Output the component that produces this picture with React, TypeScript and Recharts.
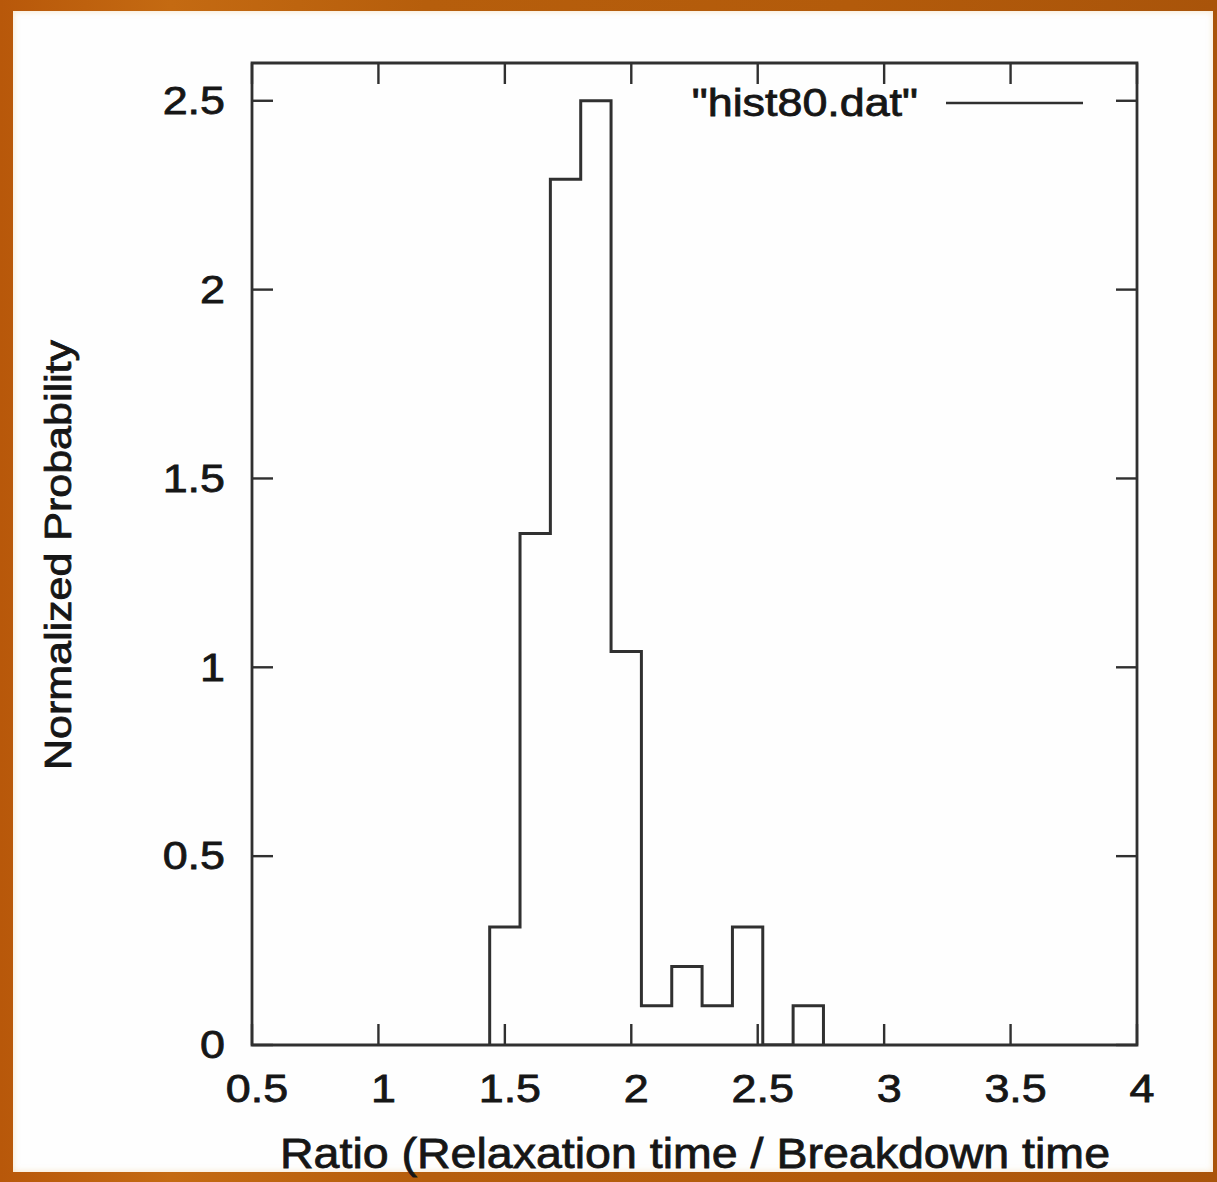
import React from 'react';
import { ComposedChart, Line, XAxis, YAxis, ReferenceArea, Legend, Label } from 'recharts';

// ---- data ----
const binEdges = [1.44, 1.56, 1.68, 1.8, 1.92, 2.04, 2.16, 2.28, 2.4, 2.52, 2.64, 2.76];
const probability = [0.3125, 1.354, 2.292, 2.5, 1.042, 0.104, 0.208, 0.104, 0.3125, 0, 0.104];
const xTicks = [0.5, 1, 1.5, 2, 2.5, 3, 3.5, 4];
const xTickLabels = ['0.5', '1', '1.5', '2', '2.5', '3', '3.5', '4'];
const yTicks = [0, 0.5, 1, 1.5, 2, 2.5];
const yTickLabels = ['0', '0.5', '1', '1.5', '2', '2.5'];
const seriesName = '"hist80.dat"';
const xTitle = 'Ratio (Relaxation time / Breakdown time';
const yTitle = 'Normalized Probability';

// ---- layout ----
const W = 1217;
const H = 1182;
const PLOT = { left: 252, top: 63, right: 1137, bottom: 1045 };
const TICK_LEN = 21;
const FONT = '"Liberation Sans", Arial, Helvetica, sans-serif';
const INK = '#161616';
const LINE = '#303030';
const STRETCH = 1.18;
const TXT_STROKE = 0.8;

const stepData = [
  { x: binEdges[0], y: 0 },
  ...probability.map((v, i) => ({ x: binEdges[i], y: v })),
  { x: binEdges[binEdges.length - 1], y: 0 },
];

function XTick(props: any) {
  const { x, payload } = props;
  const i = xTicks.indexOf(payload.value);
  const label = i >= 0 ? xTickLabels[i] : String(payload.value);
  return (
    <g>
      <line x1={x} x2={x} y1={PLOT.bottom} y2={PLOT.bottom - TICK_LEN} stroke={LINE} strokeWidth={2.4} />
      <line x1={x} x2={x} y1={PLOT.top} y2={PLOT.top + TICK_LEN} stroke={LINE} strokeWidth={2.4} />
      <text
        transform={`translate(${x + 5},${1089}) scale(${STRETCH},1)`}
        textAnchor="middle"
        dominantBaseline="central"
        fontSize={38}
        fontFamily={FONT}
        fill={INK}
        stroke={INK}
        strokeWidth={TXT_STROKE}
      >
        {label}
      </text>
    </g>
  );
}

function YTick(props: any) {
  const { y, payload } = props;
  const i = yTicks.indexOf(payload.value);
  const label = i >= 0 ? yTickLabels[i] : String(payload.value);
  return (
    <g>
      <line x1={PLOT.left} x2={PLOT.left + TICK_LEN} y1={y} y2={y} stroke={LINE} strokeWidth={2.4} />
      <line x1={PLOT.right} x2={PLOT.right - TICK_LEN} y1={y} y2={y} stroke={LINE} strokeWidth={2.4} />
      <text
        transform={`translate(${225},${y}) scale(${STRETCH},1)`}
        textAnchor="end"
        dominantBaseline="central"
        fontSize={38}
        fontFamily={FONT}
        fill={INK}
        stroke={INK}
        strokeWidth={TXT_STROKE}
      >
        {label}
      </text>
    </g>
  );
}

const renderXTitle = () => (
  <text
    x={695}
    y={1153}
    textAnchor="middle"
    dominantBaseline="central"
    fontSize={43}
    fontFamily={FONT}
    fill={INK}
    stroke={INK}
    strokeWidth={TXT_STROKE}
    textLength={830}
    lengthAdjust="spacingAndGlyphs"
  >
    {xTitle}
  </text>
);

const renderYTitle = () => (
  <text
    x={58}
    y={555}
    transform="rotate(-90, 58, 555)"
    textAnchor="middle"
    dominantBaseline="central"
    fontSize={37}
    fontFamily={FONT}
    fill={INK}
    stroke={INK}
    strokeWidth={TXT_STROKE}
    textLength={430}
    lengthAdjust="spacingAndGlyphs"
  >
    {yTitle}
  </text>
);

const renderLegend = () => (
  <svg width={W} height={140} style={{ position: 'absolute', left: 0, top: 0, overflow: 'visible' }}>
    <text
      transform={`translate(${918},${103}) scale(${STRETCH},1)`}
      textAnchor="end"
      dominantBaseline="central"
      fontSize={38}
      fontFamily={FONT}
      fill={INK}
      stroke={INK}
      strokeWidth={TXT_STROKE}
    >
      {seriesName}
    </text>
    <line x1={946} x2={1083} y1={103} y2={103} stroke={LINE} strokeWidth={2.6} />
  </svg>
);

export default function App() {
  return (
    <div
      style={{
        position: 'absolute',
        left: 0,
        top: 0,
        width: W,
        height: H,
        overflow: 'hidden',
        background: 'linear-gradient(90deg, #b8580a 0%, #c46a12 14%, #b65e0c 35%, #b35b0b 70%, #a9540a 100%)',
      }}
    >
      <div
        style={{
          position: 'absolute',
          left: 13,
          top: 11,
          width: W - 13 - 4,
          height: 1172 - 11,
          background: '#fefefe',
          boxShadow: 'inset 0 0 6px rgba(240,200,140,0.5)',
        }}
      />
      <div style={{ position: 'absolute', left: 0, top: 0 }}>
        <ComposedChart
          width={W}
          height={H}
          data={stepData}
          margin={{ top: PLOT.top, right: W - PLOT.right, bottom: 0, left: 0 }}
        >
          <XAxis
            dataKey="x"
            type="number"
            domain={[0.5, 4]}
            ticks={xTicks}
            interval={0}
            allowDataOverflow
            axisLine={false}
            tickLine={false}
            height={H - PLOT.bottom}
            tick={<XTick />}
          >
            <Label content={renderXTitle} />
          </XAxis>
          <YAxis
            type="number"
            domain={[0, 2.6]}
            ticks={yTicks}
            interval={0}
            allowDataOverflow
            axisLine={false}
            tickLine={false}
            width={PLOT.left}
            tick={<YTick />}
          >
            <Label content={renderYTitle} />
          </YAxis>
          <ReferenceArea x1={0.5} x2={4} y1={0} y2={2.6} fill="none" stroke={LINE} strokeWidth={2.8} ifOverflow="visible" />
          <Line
            type="stepAfter"
            dataKey="y"
            name={seriesName}
            stroke={LINE}
            strokeWidth={3}
            dot={false}
            activeDot={false}
            isAnimationActive={false}
          />
          <Legend
            layout="vertical"
            align="center"
            verticalAlign="middle"
            wrapperStyle={{ position: 'absolute', left: 0, top: 0, width: W, height: 0 }}
            content={renderLegend}
          />
        </ComposedChart>
      </div>
    </div>
  );
}
